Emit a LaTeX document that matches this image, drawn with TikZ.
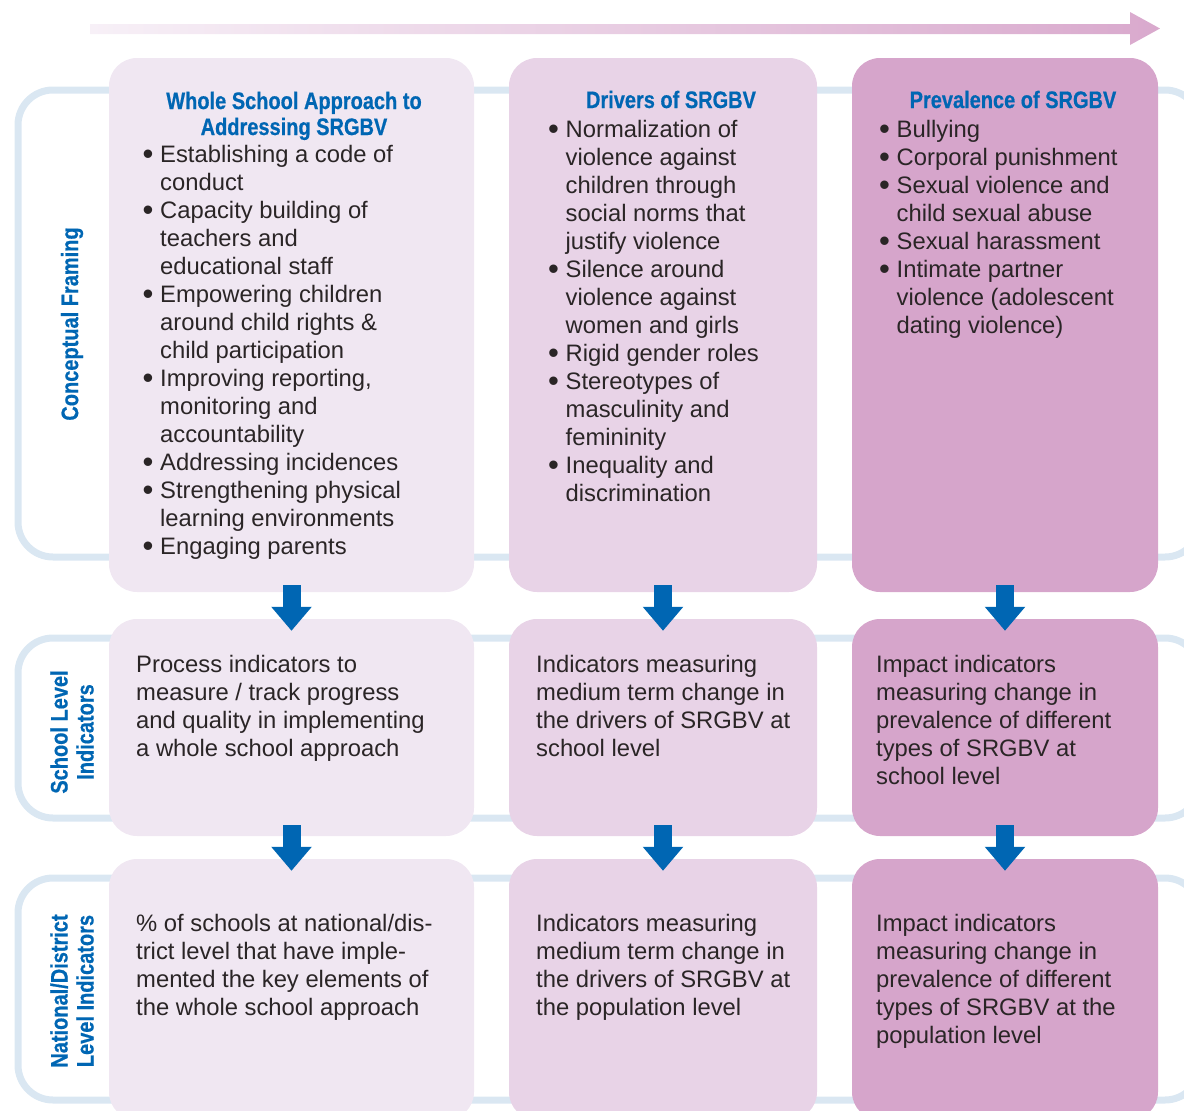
\documentclass[tikz,border=0pt]{standalone}
\usepackage{fontspec}
\setmainfont{Liberation Sans}
\newfontfamily\headfont[FakeStretch=0.84, FakeBold=0.6]{Liberation Sans}
\usetikzlibrary{arrows.meta}

\definecolor{bandblue}{HTML}{DAE7F2}
\definecolor{srblue}{HTML}{0066B3}
\definecolor{colA}{HTML}{F0E7F2}
\definecolor{colB}{HTML}{E8D3E7}
\definecolor{colC}{HTML}{D6A5CB}
\definecolor{txtgrey}{HTML}{2A2526}
\definecolor{arrowlight}{HTML}{F7F0F7}
\definecolor{arrowdark}{HTML}{D9A9CD}

\newcommand{\bodysize}{\fontsize{23.8}{28}\selectfont}
\newcommand{\headsize}{\headfont\bfseries\fontsize{23.8}{26}\selectfont}
\newcommand{\bul}{\makebox[17.5pt][l]{\raisebox{-2.2pt}{\fontsize{31}{28}\selectfont\textbullet}}}

\begin{document}
\begin{tikzpicture}[x=1pt, y=-1pt,
  band/.style={draw=bandblue, line width=7pt, rounded corners=35pt},
  box/.style={rounded corners=28pt, inner sep=0pt},
  txt/.style={anchor=base west, inner sep=0pt, text=txtgrey, font=\bodysize},
  head/.style={anchor=base, inner sep=0pt, text=srblue, font=\headsize},
  side/.style={rotate=90, inner sep=0pt, text=srblue, font=\headsize, align=center},
  down/.style={srblue, line width=18pt, -{Triangle[width=39pt, length=24pt]}}]
	\useasboundingbox (0,0) rectangle (1184,1111);
	\clip (0,0) rectangle (1184,1111);

	% time arrow on top
	\shade [left color=arrowlight, right color=arrowdark]
		(90,24) -- (1130,24) -- (1130,12) -- (1160,28.5) -- (1130,45) -- (1130,34) -- (90,34) -- cycle;

	% row bands
	\draw [band] (18,90) rectangle (1200,557);
	\draw [band] (18,638) rectangle (1200,818);
	\draw [band] (18,878) rectangle (1200,1100);

	\node [side] (cframe) at (72,324) {Conceptual Framing};
	\node [side] (school) at (72,732) {School Level\\Indicators};
	\node [side] (nation) at (72,991) {National/District\\Level Indicators};

	% boxes
	\node [box, fill=colA, minimum width=365pt, minimum height=534pt] (wsa) at (291.5,325) {};
	\node [box, fill=colB, minimum width=308pt, minimum height=534pt] (drv) at (663,325) {};
	\node [box, fill=colC, minimum width=306pt, minimum height=534pt] (prev) at (1005,325) {};
	\node [box, fill=colA, minimum width=365pt, minimum height=217pt] (wsaS) at (291.5,727.5) {};
	\node [box, fill=colB, minimum width=308pt, minimum height=217pt] (drvS) at (663,727.5) {};
	\node [box, fill=colC, minimum width=306pt, minimum height=217pt] (prevS) at (1005,727.5) {};
	\node [box, fill=colA, minimum width=365pt, minimum height=261pt] (wsaN) at (291.5,989.5) {};
	\node [box, fill=colB, minimum width=308pt, minimum height=261pt] (drvN) at (663,989.5) {};
	\node [box, fill=colC, minimum width=306pt, minimum height=261pt] (prevN) at (1005,989.5) {};

	\draw [down] ([yshift=7pt]wsa.south) -- ([yshift=-12pt]wsaS.north);
	\draw [down] ([yshift=7pt]drv.south) -- ([yshift=-12pt]drvS.north);
	\draw [down] ([yshift=7pt]prev.south) -- ([yshift=-12pt]prevS.north);
	\draw [down] ([yshift=11pt]wsaS.south) -- ([yshift=-12pt]wsaN.north);
	\draw [down] ([yshift=11pt]drvS.south) -- ([yshift=-12pt]drvN.north);
	\draw [down] ([yshift=11pt]prevS.south) -- ([yshift=-12pt]prevN.north);

	% conceptual framing
	\node [head] (wsaT) at (294,109) {\begin{tabular}[t]{@{}c@{}}Whole School Approach to\\Addressing SRGBV\end{tabular}};
	\node [txt] (wsaL) at (142.5,162) {\begin{tabular}[t]{@{}l@{}l@{}}
		\bul & Establishing a code of\\ & conduct\\
		\bul & Capacity building of\\ & teachers and\\ & educational staff\\
		\bul & Empowering children\\ & around child rights \&\\ & child participation\\
		\bul & Improving reporting,\\ & monitoring and\\ & accountability\\
		\bul & Addressing incidences\\
		\bul & Strengthening physical\\ & learning environments\\
		\bul & Engaging parents
	\end{tabular}};

	\node [head] (drvT) at (671,108) {Drivers of SRGBV};
	\node [txt] (drvL) at (548,137) {\begin{tabular}[t]{@{}l@{}l@{}}
		\bul & Normalization of\\ & violence against\\ & children through\\ & social norms that\\ & justify violence\\
		\bul & Silence around\\ & violence against\\ & women and girls\\
		\bul & Rigid gender roles\\
		\bul & Stereotypes of\\ & masculinity and\\ & femininity\\
		\bul & Inequality and\\ & discrimination
	\end{tabular}};

	\node [head] (prevT) at (1013,108) {Prevalence of SRGBV};
	\node [txt] (prevL) at (879,137) {\begin{tabular}[t]{@{}l@{}l@{}}
		\bul & Bullying\\
		\bul & Corporal punishment\\
		\bul & Sexual violence and\\ & child sexual abuse\\
		\bul & Sexual harassment\\
		\bul & Intimate partner\\ & violence (adolescent\\ & dating violence)
	\end{tabular}};

	% school level
	\node [txt] (wsaST) at (136,672) {\begin{tabular}[t]{@{}l@{}}Process indicators to\\measure / track progress\\and quality in implementing\\a whole school approach\end{tabular}};
	\node [txt] (drvST) at (536,672) {\begin{tabular}[t]{@{}l@{}}Indicators measuring\\medium term change in\\the drivers of SRGBV at\\school level\end{tabular}};
	\node [txt] (prevST) at (876,672) {\begin{tabular}[t]{@{}l@{}}Impact indicators\\measuring change in\\prevalence of different\\types of SRGBV at\\school level\end{tabular}};

	% national / district level
	\node [txt] (wsaNT) at (136,931) {\begin{tabular}[t]{@{}l@{}}\% of schools at national/dis-\\trict level that have imple-\\mented the key elements of\\the whole school approach\end{tabular}};
	\node [txt] (drvNT) at (536,931) {\begin{tabular}[t]{@{}l@{}}Indicators measuring\\medium term change in\\the drivers of SRGBV at\\the population level\end{tabular}};
	\node [txt] (prevNT) at (876,931) {\begin{tabular}[t]{@{}l@{}}Impact indicators\\measuring change in\\prevalence of different\\types of SRGBV at the\\population level\end{tabular}};

\end{tikzpicture}
\end{document}
